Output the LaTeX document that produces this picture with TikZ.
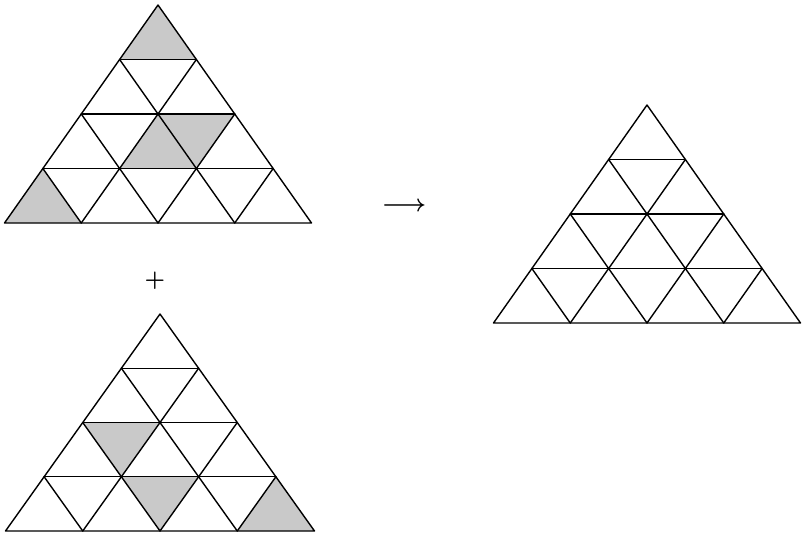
\documentclass[tikz,border=0pt]{standalone}
\usetikzlibrary{arrows.meta}
\tikzset{
  gridline/.style={line width=1.4pt, line join=round, line cap=round},
  shade/.style={fill=gray!42},
}
% #1 apex x, #2 apex y (image px), #3 width, #4 height, #5 shaded fills
\newcommand{\trigrid}[5]{%
  \begin{scope}[shift={(#1pt,-#2pt)}, x={(-#3pt/8,-#4pt/4)}, y={(#3pt/8,-#4pt/4)}]
    #5
    \foreach \k in {1,2,3} {
      \draw[gridline] (\k,0) -- (0,\k);
      \draw[gridline] (0,\k) -- ({4-\k},\k);
      \draw[gridline] (\k,0) -- (\k,{4-\k});
    }
    \draw[gridline] (0,0) -- (4,0) -- (0,4) -- cycle;
  \end{scope}}
\begin{document}
\begin{tikzpicture}[x=1pt,y=1pt]
  \useasboundingbox (0,0) rectangle (802,-536);
  \fill[white] (0,0) rectangle (802,-536);
  % top-left
  \trigrid{158}{5}{307}{218}{%
    \fill[shade] (0,0) -- (1,0) -- (0,1) -- cycle;
    \fill[shade] (1,1) -- (2,1) -- (1,2) -- cycle;
    \fill[shade] (1,1) -- (0,2) -- (1,2) -- cycle;
    \fill[shade] (3,0) -- (4,0) -- (3,1) -- cycle;
  }
  % bottom-left
  \trigrid{160}{314}{309}{217}{%
    \fill[shade] (2,0) -- (1,1) -- (2,1) -- cycle;
    \fill[shade] (2,1) -- (1,2) -- (2,2) -- cycle;
    \fill[shade] (0,3) -- (1,3) -- (0,4) -- cycle;
  }
  % right
  \trigrid{647}{105}{307}{218}{}
  \node[inner sep=0pt] (plus) at (155,-281) {\scalebox{2.3}{\boldmath$+$}};
  \node[inner sep=0pt] (arrow) at (404,-207) {\scalebox{2.4}{\boldmath$\longrightarrow$}};
\end{tikzpicture}
\end{document}
